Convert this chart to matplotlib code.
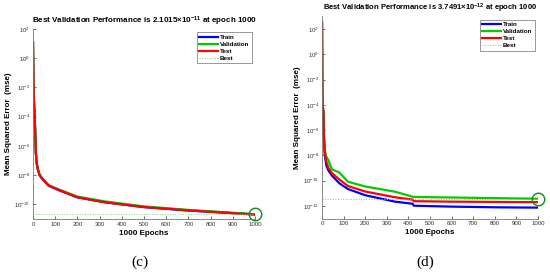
import matplotlib
matplotlib.use("Agg")
import matplotlib.pyplot as plt

plt.rcParams['font.family'] = ['Liberation Sans', 'DejaVu Sans']
plt.rcParams['mathtext.default'] = 'regular'

# ---- panel (c) ----
c_epochs = [0, 3, 7, 10, 13, 17, 22, 30, 45, 70, 113, 200, 324, 500, 700, 850, 1000]
c_train = [12.0, 2.5e-3, 1.4e-4, 9e-6, 3e-7, 6e-8, 2.4e-8, 9.5e-9, 4.8e-9, 1.9e-9, 9.8e-10,
           3.0e-10, 1.4e-10, 6.5e-11, 3.8e-11, 2.8e-11, 2.08e-11]
c_valid = [12.0, 3.0e-3, 1.6e-4, 1.0e-5, 3.3e-7, 6.6e-8, 2.6e-8, 1.05e-8, 5.4e-9, 2.1e-9, 1.1e-9,
           3.4e-10, 1.6e-10, 7.3e-11, 4.2e-11, 3.0e-11, 2.1015e-11]
c_test = [12.6, 3.2e-3, 1.6e-4, 1.0e-5, 3.2e-7, 6.3e-8, 2.5e-8, 1.0e-8, 5.0e-9, 2.0e-9, 1.02e-9,
          3.1e-10, 1.4e-10, 6.6e-11, 3.9e-11, 2.8e-11, 2.0e-11]
c_best = 2.1015e-11
c_best_epoch = 1000

# ---- panel (d) ----
d_epochs = [0, 2, 6, 9, 13, 20, 30, 46, 80, 120, 200, 338, 420, 425, 600, 800, 1000]
d_train = [250, 4e-5, 3e-5, 1.6e-7, 1.0e-8, 1.6e-9, 6.3e-10, 2.5e-10, 6.3e-11, 2.2e-11,
           7.1e-12, 2.2e-12, 1.5e-12, 1.05e-12, 8.9e-13, 7.9e-13, 7.4e-13]
d_valid = [320, 6e-5, 4e-5, 3.2e-7, 2.5e-8, 7.9e-9, 4.0e-9, 7.9e-10, 4.5e-10, 8.3e-11,
           3.5e-11, 1.35e-11, 5.4e-12, 5.2e-12, 4.7e-12, 4.2e-12, 3.7491e-12]
d_test = [350, 6e-5, 5e-5, 3.2e-7, 1.6e-8, 3.2e-9, 1.0e-9, 4.0e-10, 1.26e-10, 3.8e-11,
          1.4e-11, 4.9e-12, 3.2e-12, 2.4e-12, 2.2e-12, 2.1e-12, 2.0e-12]
d_best = 3.7491e-12
d_best_epoch = 1000

xticks = list(range(0, 1001, 100))


def perf_panel(ax, epochs, train, valid, test, best, best_epoch, ylim, yticks, title, tsize):
    ax.plot(epochs, train, color='#0000ff', lw=1.6, label='Train')
    ax.plot(epochs, valid, color='#00cc00', lw=1.6, label='Validation')
    ax.plot(epochs, test, color='#ff0000', lw=1.6, label='Test')
    ax.axhline(best, color='#7ccf7c', lw=0.7, ls=':', label='Best')
    ax.axvline(best_epoch, color='#7ccf7c', lw=0.7, ls=':')
    ax.plot([best_epoch], [best], 'o', mfc='none', mec='#138a13', mew=1.0, ms=9, clip_on=False)
    ax.set_yscale('log')
    ax.set_xlim(0, 1000)
    ax.set_ylim(*ylim)
    ax.set_xticks(xticks)
    ax.set_yticks(yticks)
    ax.minorticks_off()
    ax.tick_params(direction='in', length=2, width=0.5, labelsize=4.4, colors='#333333', pad=2)
    for s in ['top', 'right']:
        ax.spines[s].set_visible(False)
    for s in ['left', 'bottom']:
        ax.spines[s].set_color('#777777')
        ax.spines[s].set_linewidth(0.6)
    ax.set_title(title, fontsize=tsize, fontweight='bold', pad=4)
    ax.set_xlabel('1000 Epochs', fontsize=5.8, fontweight='bold', labelpad=2)
    ax.set_ylabel('Mean Squared Error  (mse)', fontsize=5.8, fontweight='bold', labelpad=2)
    leg = ax.legend(loc='upper right', fontsize=4.5, handlelength=3.0, labelspacing=0.25,
                    borderpad=0.4, handletextpad=0.3, fancybox=False, framealpha=1)
    leg.get_frame().set_edgecolor('#888888')
    leg.get_frame().set_linewidth(0.6)
    for t in leg.get_texts():
        t.set_fontweight('bold')


fig = plt.figure(figsize=(5.5, 2.75), dpi=100)
ax1 = fig.add_axes([0.06, 0.2036, 0.4036, 0.691])
ax2 = fig.add_axes([0.5855, 0.205, 0.3927, 0.7353])

perf_panel(ax1, c_epochs, c_train, c_valid, c_test, c_best, c_best_epoch,
           (1e-11, 1e2), [1e-10, 1e-8, 1e-6, 1e-4, 1e-2, 1e0, 1e2],
           r'Best Validation Performance is 2.1015$\times$10$^{-11}$ at epoch 1000', 5.8)
perf_panel(ax2, d_epochs, d_train, d_valid, d_test, d_best, d_best_epoch,
           (1e-13, 1e3), [1e-12, 1e-10, 1e-8, 1e-6, 1e-4, 1e-2, 1e0, 1e2],
           r'Best Validation Performance is 3.7491$\times$10$^{-12}$ at epoch 1000', 5.5)

fig.text(0.255, 0.045, '(c)', fontsize=11, family='Liberation Serif', ha='center', va='center')
fig.text(0.773, 0.045, '(d)', fontsize=11, family='Liberation Serif', ha='center', va='center')

fig.savefig('out.png', dpi=100)
